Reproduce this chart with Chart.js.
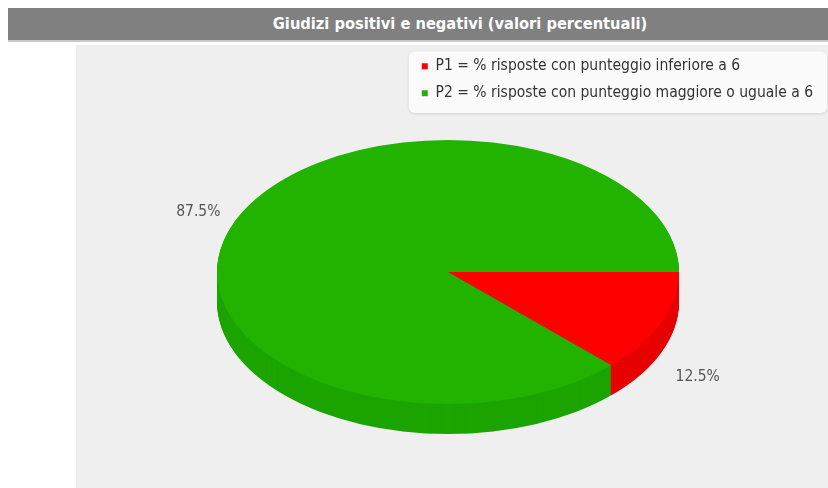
<!DOCTYPE html>
<html>
<head>
<meta charset="utf-8">
<script src="https://cdn.jsdelivr.net/npm/chart.js@4.4.1/dist/chart.umd.min.js"></script>
<style>
  html, body { margin: 0; padding: 0; background: #fff; }
  #wrap { position: relative; width: 828px; height: 488px; overflow: hidden; }
  #titlebar {
    position: absolute; left: 8px; top: 8px; width: 820px; height: 34px;
    background: #808080; border-bottom: 2px solid #c8c8c8;
    color: #fff; font: bold 16.3px "DejaVu Sans Condensed", sans-serif;
    line-height: 32px; text-align: center; padding-left: 84px; box-sizing: border-box;
  }
  #plotbg { position: absolute; left: 76px; top: 45px; width: 752px; height: 443px; background: #efefef; }
  #pieChart { position: absolute; left: 0; top: 0; }
</style>
</head>
<body>
<div id="wrap">
  <div id="titlebar">Giudizi positivi e negativi (valori percentuali)</div>
  <div id="plotbg"></div>
  <canvas id="pieChart" width="828" height="488"></canvas>
</div>
<script>
const categories = ['P1 = % risposte con punteggio inferiore a 6', 'P2 = % risposte con punteggio maggiore o uguale a 6'];
const percentValues = [12.5, 87.5];
const percentLabels = ['12.5%', '87.5%'];

const topColors = ['#ff0000', '#22b200'];
const sideColors = ['#e60000', '#1ca400'];

// where the tilted pie sits on the page
const pie3d = { cx: 448, cy: 272, rx: 231, ry: 132, depth: 30 };

document.addEventListener('DOMContentLoaded', function () {
    const ctx = document.getElementById('pieChart').getContext('2d');

    const legendBox = {
        id: 'legendBox',
        beforeDraw(chart) {
            const boxes = chart.legend.legendHitBoxes;
            if (!boxes.length) return;
            const c = chart.ctx;
            const left = Math.min(...boxes.map(b => b.left)) - 13;
            const top = Math.min(...boxes.map(b => b.top)) - 7;
            const bottom = Math.max(...boxes.map(b => b.top + b.height)) + 12;
            const right = 827;
            c.save();
            c.shadowColor = 'rgba(0,0,0,0.12)';
            c.shadowBlur = 3;
            c.shadowOffsetY = 1;
            c.fillStyle = '#fbfbfb';
            c.beginPath();
            c.roundRect(left, top, right - left, bottom - top, 6);
            c.fill();
            c.restore();
        }
    };

    const tilt = {
        id: 'tilt',
        beforeDatasetsDraw(chart) {
            const c = chart.ctx;
            const arcs = chart.getDatasetMeta(0).data;
            const base = arcs[0];
            const sx = pie3d.rx / base.outerRadius;
            const sy = pie3d.ry / base.outerRadius;
            // side walls: stack of shifted sectors
            for (let d = pie3d.depth; d >= 1; d--) {
                arcs.forEach((arc, i) => {
                    c.save();
                    c.translate(pie3d.cx, pie3d.cy + d);
                    c.scale(sx, sy);
                    c.beginPath();
                    c.moveTo(0, 0);
                    c.arc(0, 0, arc.outerRadius, arc.startAngle, arc.endAngle);
                    c.closePath();
                    c.fillStyle = sideColors[i];
                    c.fill();
                    c.restore();
                });
            }
            c.save();
            c.translate(pie3d.cx, pie3d.cy);
            c.scale(sx, sy);
            c.translate(-base.x, -base.y);
        },
        afterDatasetsDraw(chart) {
            const c = chart.ctx;
            c.restore();
            const arcs = chart.getDatasetMeta(0).data;
            c.save();
            c.font = '15.5px "DejaVu Sans Condensed"';
            c.fillStyle = '#555';
            c.textAlign = 'center';
            c.textBaseline = 'middle';
            arcs.forEach((arc, i) => {
                const mid = (arc.startAngle + arc.endAngle) / 2;
                const cos = Math.cos(mid), sin = Math.sin(mid);
                const x = pie3d.cx + cos * pie3d.rx * 1.17;
                let y = pie3d.cy + sin * pie3d.ry * 1.18;
                if (sin > 0) y += pie3d.depth * 1.5;
                c.fillText(percentLabels[i], x, y);
            });
            c.restore();
        }
    };

    const pieChart = new Chart(ctx, {
        type: 'pie',
        data: {
            labels: categories,
            datasets: [{
                data: percentValues,
                backgroundColor: topColors,
                borderWidth: 0,
                clip: false,
            }]
        },
        options: {
            responsive: false,
            animation: false,
            events: [],
            rotation: 90,
            layout: { padding: { top: 47, right: 5 } },
            plugins: {
                title: { display: false },
                tooltip: { enabled: false },
                legend: {
                    position: 'right',
                    align: 'start',
                    maxWidth: 480,
                    labels: {
                        boxWidth: 6,
                        boxHeight: 6,
                        padding: 11.5,
                        color: '#333',
                        font: { family: 'DejaVu Sans Condensed', size: 15.5 }
                    }
                }
            }
        },
        plugins: [legendBox, tilt]
    });
});
</script>
</body>
</html>
